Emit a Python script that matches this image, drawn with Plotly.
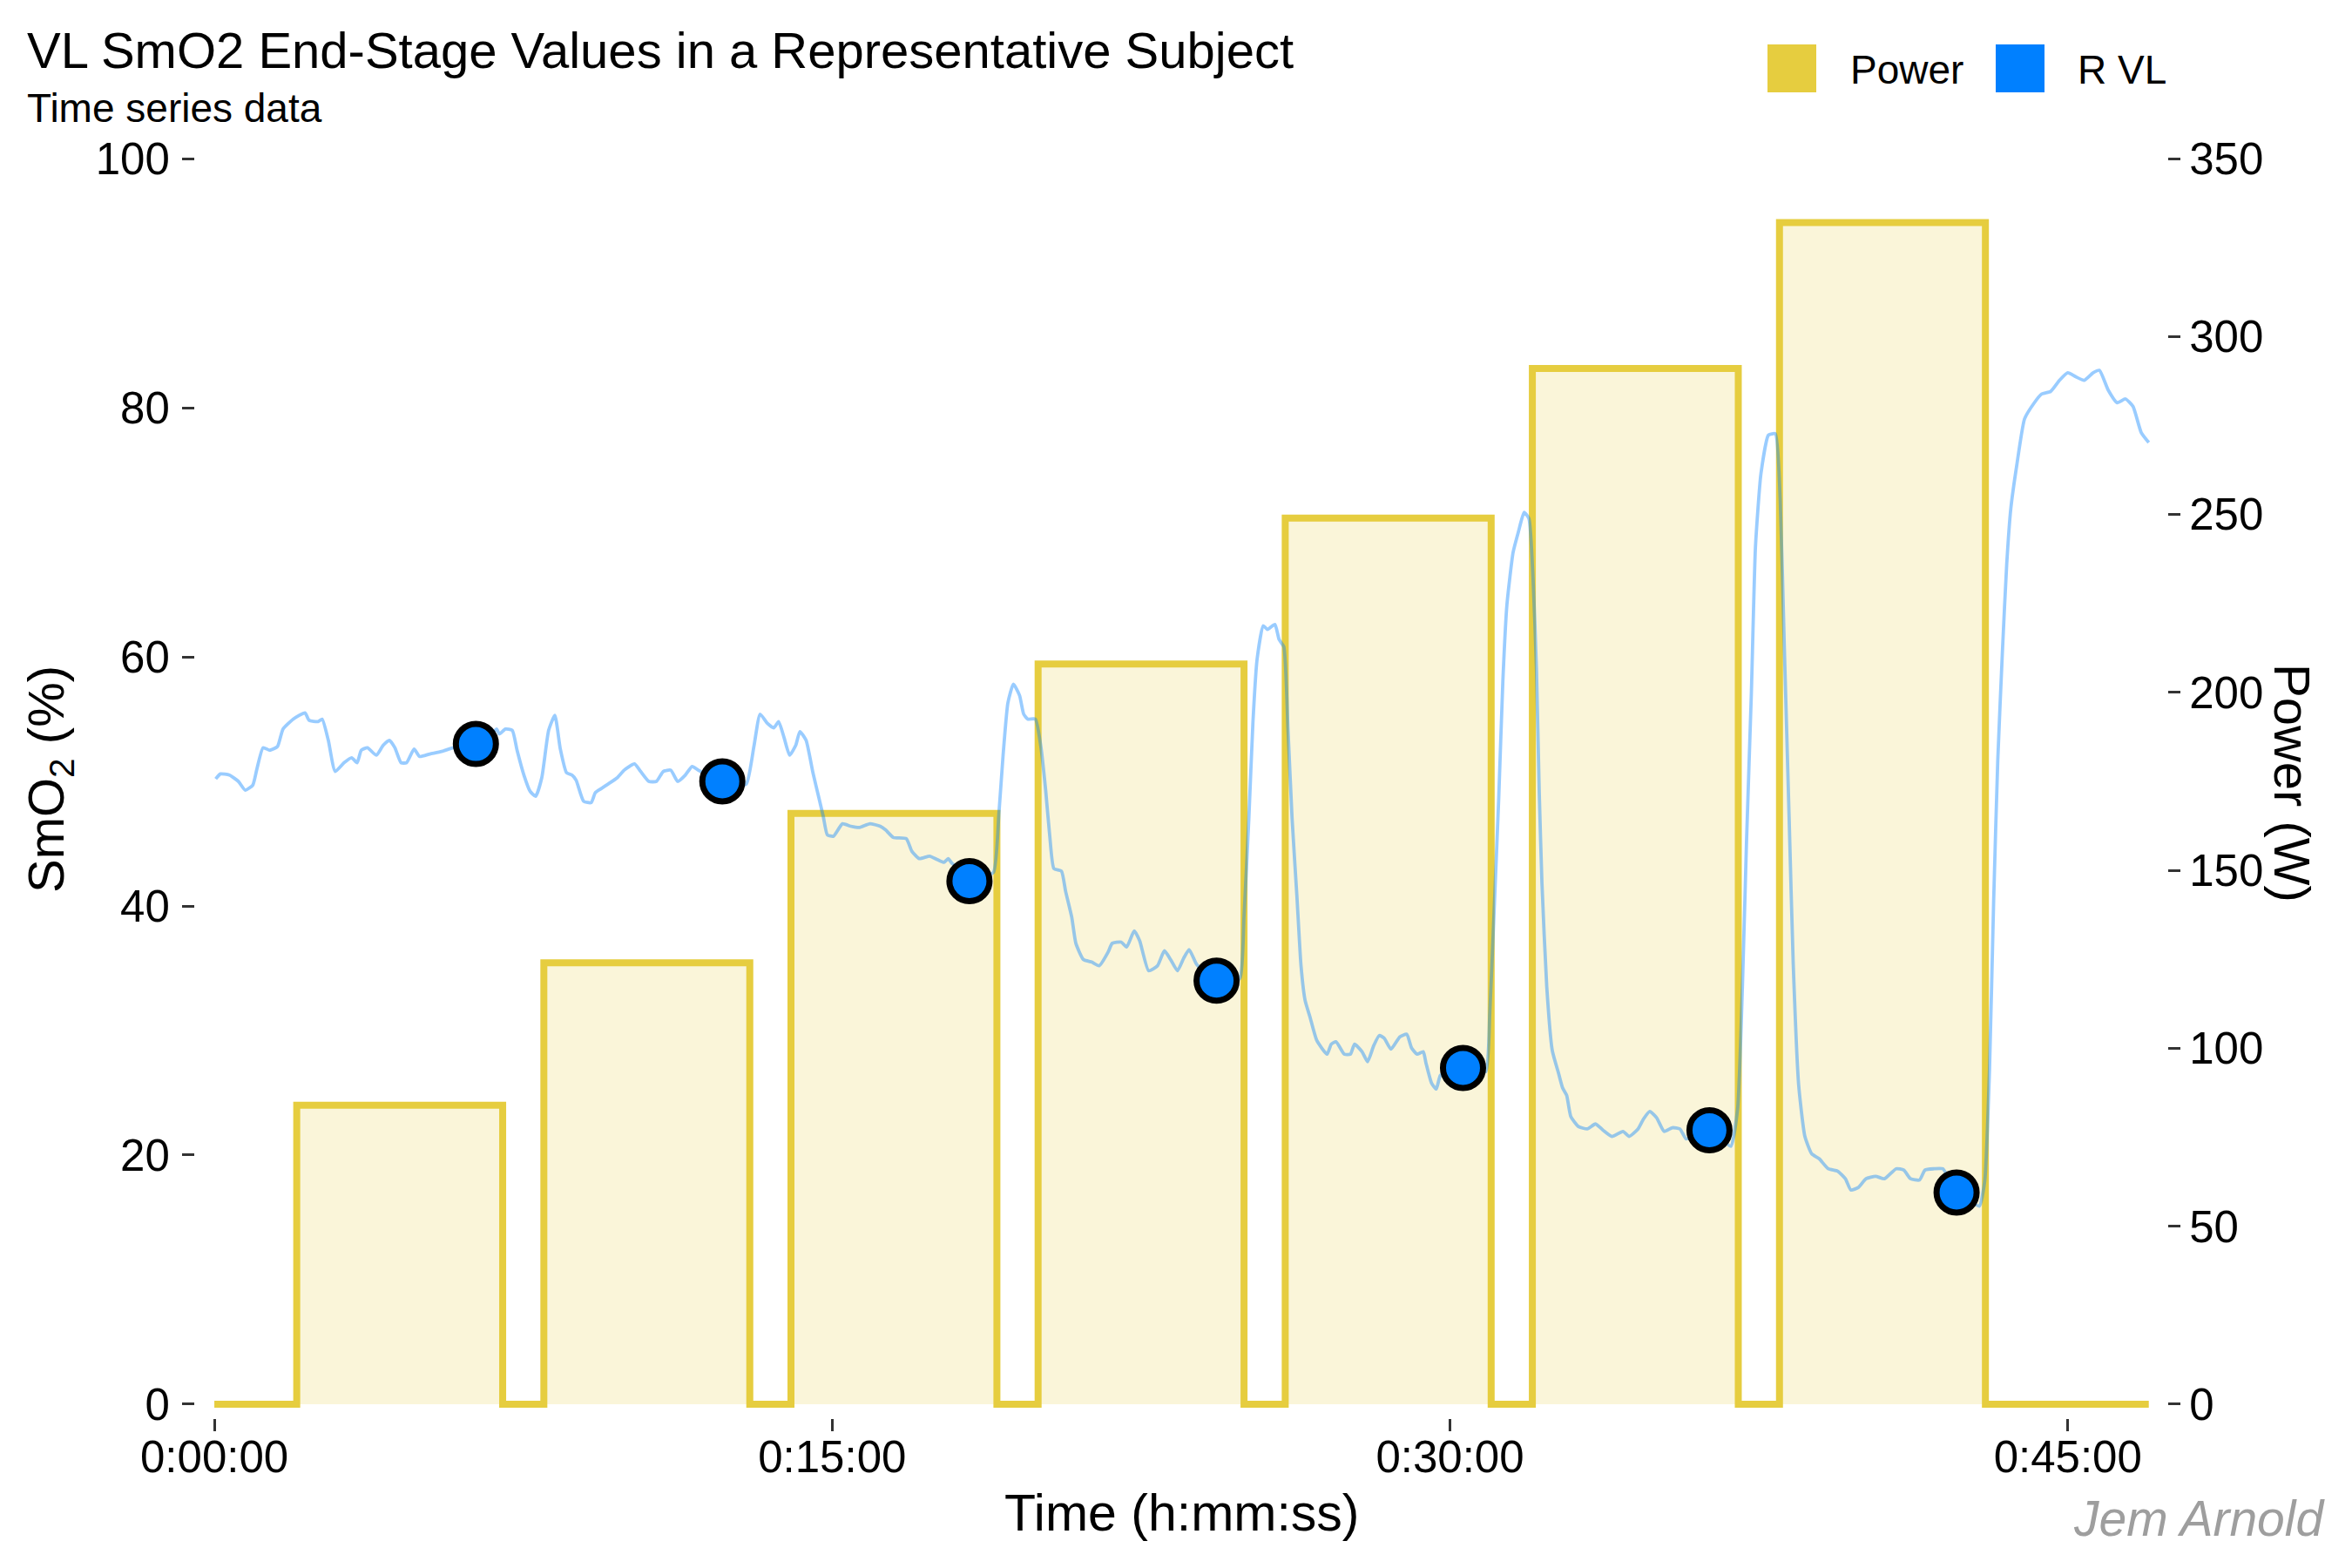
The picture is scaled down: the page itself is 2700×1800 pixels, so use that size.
import plotly.graph_objects as go

# ---------------- data ----------------
time_s = [2, 9, 22, 35, 45, 56, 62, 71, 81, 92, 100, 115, 132, 138, 151, 157, 166, 176, 189, 200,
          208, 214, 223, 236, 246, 255, 263, 272, 280, 291, 299, 314, 331, 348, 365, 381, 398, 411, 415, 424,
          434, 441, 451, 460, 468, 477, 487, 496, 504, 513, 521, 527, 538, 549, 555, 563, 574, 587, 597, 612,
          621, 633, 644, 654, 665, 675, 686, 696, 705, 722, 740, 758, 775, 786, 795, 805, 815, 822, 830, 838,
          847, 853, 862, 872, 881, 887, 893, 902, 915, 927, 940, 955, 970, 978, 989, 1008, 1016, 1027, 1042, 1054,
          1063, 1069, 1075, 1088, 1100, 1118, 1135, 1143, 1149, 1156, 1164, 1173, 1179, 1185, 1196, 1204, 1211, 1217, 1223, 1234,
          1240, 1249, 1255, 1266, 1278, 1289, 1302, 1308, 1321, 1329, 1340, 1348, 1361, 1374, 1384, 1393, 1403, 1412, 1420, 1431,
          1445, 1460, 1478, 1494, 1500, 1507, 1513, 1519, 1528, 1534, 1545, 1551, 1558, 1564, 1570, 1577, 1583, 1589, 1596, 1606,
          1621, 1627, 1634, 1646, 1655, 1661, 1672, 1680, 1689, 1697, 1704, 1714, 1727, 1737, 1744, 1752, 1761, 1765, 1773, 1780,
          1786, 1800, 1819, 1836, 1852, 1858, 1864, 1871, 1877, 1883, 1892, 1900, 1908, 1915, 1921, 1926, 1930, 1934, 1941, 1949,
          1958, 1964, 1970, 1976, 1987, 2000, 2012, 2023, 2036, 2052, 2061, 2074, 2082, 2091, 2101, 2112, 2124, 2135, 2144, 2160,
          2178, 2194, 2209, 2219, 2226, 2232, 2239, 2245, 2253, 2264, 2274, 2281, 2287, 2294, 2300, 2308, 2317, 2327, 2338, 2351,
          2365, 2376, 2384, 2395, 2406, 2420, 2433, 2450, 2461, 2471, 2484, 2492, 2505, 2518, 2538, 2555, 2571, 2579, 2586, 2592,
          2598, 2605, 2611, 2617, 2626, 2637, 2650, 2662, 2675, 2688, 2700, 2711, 2724, 2737, 2746, 2759, 2772, 2784, 2795, 2807,
          2818]
smo2_rvl = [50.2, 50.6, 50.5, 50.0, 49.3, 49.7, 51.0, 52.7, 52.5, 52.8, 54.2, 55.0, 55.5, 54.9, 54.8, 55.0, 53.3, 50.8, 51.5, 51.9,
            51.5, 52.5, 52.7, 52.1, 52.9, 53.3, 52.7, 51.5, 51.5, 52.6, 52.0, 52.2, 52.4, 52.7, 52.8, 53.0, 53.4, 54.2, 53.8, 54.2,
            54.1, 52.5, 50.5, 49.2, 48.8, 50.3, 54.1, 55.3, 52.6, 50.7, 50.5, 50.1, 48.4, 48.3, 49.1, 49.4, 49.8, 50.3, 50.9, 51.4,
            50.8, 50.0, 50.0, 50.8, 50.9, 50.0, 50.5, 51.2, 50.9, 50.4, 50.0, 49.6, 49.8, 52.8, 55.4, 54.7, 54.3, 54.8, 53.5, 52.1,
            52.9, 54.0, 53.3, 50.7, 48.6, 47.2, 45.7, 45.6, 46.6, 46.4, 46.3, 46.6, 46.4, 46.1, 45.5, 45.4, 44.4, 43.8, 44.0, 43.7,
            43.5, 43.8, 43.4, 43.0, 42.0, 42.3, 42.7, 47.5, 52.1, 56.3, 57.8, 56.9, 55.4, 55.0, 55.0, 52.8, 49.3, 45.6, 43.0, 42.8,
            41.2, 39.1, 37.0, 35.7, 35.5, 35.2, 36.3, 37.0, 37.1, 36.7, 38.0, 37.2, 34.8, 35.2, 36.4, 35.7, 34.8, 35.8, 36.5, 35.3,
            34.6, 34.0, 33.8, 34.2, 39.2, 47.0, 54.8, 59.8, 62.5, 62.2, 62.6, 61.4, 60.8, 54.2, 47.0, 40.8, 35.2, 32.4, 31.1, 29.2,
            28.1, 28.9, 29.1, 28.1, 28.1, 28.9, 28.3, 27.5, 28.8, 29.6, 29.4, 28.5, 29.5, 29.7, 28.6, 28.1, 28.3, 27.4, 25.8, 25.3,
            26.4, 26.9, 27.0, 26.8, 26.7, 31.4, 39.2, 48.6, 58.0, 64.2, 68.4, 70.1, 71.6, 71.1, 66.3, 59.0, 49.2, 41.8, 33.5, 28.4,
            26.6, 25.4, 24.8, 23.1, 22.3, 22.1, 22.5, 22.0, 21.5, 21.9, 21.5, 22.1, 22.9, 23.5, 23.0, 21.9, 22.2, 22.1, 21.3, 21.6,
            22.0, 21.4, 20.7, 23.7, 33.5, 45.2, 57.0, 68.8, 74.7, 77.8, 77.9, 72.7, 60.9, 47.2, 35.4, 25.6, 21.5, 20.1, 19.7, 18.9,
            18.7, 18.1, 17.2, 17.4, 18.1, 18.3, 18.1, 18.9, 18.8, 18.1, 18.0, 18.8, 18.9, 18.9, 17.0, 16.5, 15.9, 17.9, 26.9, 40.4,
            51.7, 60.7, 67.4, 71.9, 75.5, 79.1, 80.3, 81.1, 81.3, 82.2, 82.8, 82.5, 82.2, 82.8, 83.0, 81.4, 80.4, 80.7, 80.1, 78.0,
            77.2]

power_time = [0, 120, 420, 480, 780, 840, 1140, 1200, 1500, 1560, 1860, 1920, 2220, 2280, 2580, 2818]
power_w = [0, 84, 0, 124, 0, 166, 0, 208, 0, 249, 0, 291, 0, 332, 0, 0]

end_stage_time = [381, 740, 1100, 1460, 1819, 2178, 2538]
end_stage_smo2 = [53, 50, 42, 34, 27, 22, 17]

x_tickvals = [0, 900, 1800, 2700]
x_ticktext = ["0:00:00", "0:15:00", "0:30:00", "0:45:00"]
smo2_tickvals = [0, 20, 40, 60, 80, 100]
power_tickvals = [0, 50, 100, 150, 200, 250, 300, 350]

# ---------------- layout geometry ----------------
OFF = 8                      # page body margin
W, H = 2700 - OFF, 1800 - OFF
# plot area in page pixels
PL, PR, PT, PB = 224, 2488, 166, 1628
SMO2_RANGE = [-1.12, 101.12]
POWER_RANGE = [v * 3.5 for v in SMO2_RANGE]
FONT = "Liberation Sans, Arial, Helvetica, sans-serif"
YELLOW = "#E6CD3F"
BLUE = "#0080FF"
TICK = 51


def px(xp):
    return (xp - PL) / (PR - PL)


def py(yp):
    return (PB - yp) / (PB - PT)


fig = go.Figure()

fig.add_trace(go.Scatter(
    x=power_time, y=power_w, yaxis="y", mode="lines", line_shape="hv",
    line=dict(color=YELLOW, width=8), fill="tozeroy",
    fillcolor="rgba(230,205,63,0.2)", name="Power", showlegend=False,
    hoverinfo="skip"))

fig.add_trace(go.Scatter(
    x=time_s, y=smo2_rvl, yaxis="y2", mode="lines",
    line=dict(color="rgba(0,128,255,0.4)", width=3.8, shape="spline", smoothing=0.5),
    name="R VL", showlegend=False))

fig.add_trace(go.Scatter(
    x=end_stage_time, y=end_stage_smo2, yaxis="y2", mode="markers",
    marker=dict(color=BLUE, size=46, line=dict(color="black", width=7)),
    name="R VL end-stage", showlegend=False))

annotations = [
    dict(text="VL SmO2 End-Stage Values in a Representative Subject", x=px(29), y=py(58),
         xanchor="left", yanchor="middle", font=dict(size=58, color="black")),
    dict(text="Time series data", x=px(29), y=py(124), xanchor="left", yanchor="middle",
         font=dict(size=46, color="black")),
    dict(text="Time (h:mm:ss)", x=px(1357), y=py(1737), xanchor="center", yanchor="middle",
         font=dict(size=59, color="black")),
    dict(text="SmO<sub>2</sub> (%)", x=px(57), y=py(895), xanchor="center", yanchor="middle",
         textangle=-90, font=dict(size=58, color="black")),
    dict(text="Power (W)", x=px(2632), y=py(899), xanchor="center", yanchor="middle",
         textangle=90, font=dict(size=58, color="black")),
    dict(text="<i>Jem Arnold</i>", x=px(2671), y=py(1743), xanchor="right", yanchor="middle",
         font=dict(size=57, color="#9E9E9E")),
    dict(text="Power", x=px(2122), y=py(80), xanchor="left", yanchor="middle",
         font=dict(size=46, color="black")),
    dict(text="R VL", x=px(2383), y=py(80), xanchor="left", yanchor="middle",
         font=dict(size=46, color="black")),
]
for a in annotations:
    a.update(xref="paper", yref="paper", showarrow=False)

shapes = [
    dict(type="rect", xref="paper", yref="paper", x0=px(2029), x1=px(2085), y0=py(106), y1=py(51),
         fillcolor=YELLOW, line=dict(width=0)),
    dict(type="rect", xref="paper", yref="paper", x0=px(2291), x1=px(2347), y0=py(106), y1=py(51),
         fillcolor=BLUE, line=dict(width=0)),
]

axis_common = dict(ticks="outside", ticklen=14, tickwidth=3, tickcolor="#333333",
                   tickfont=dict(size=TICK, color="black"), showgrid=False,
                   zeroline=False, showline=False)

fig.update_layout(
    width=W, height=H,
    margin=dict(l=PL - OFF, r=W - (PR - OFF), t=PT - OFF, b=H - (PB - OFF), pad=0),
    paper_bgcolor="white", plot_bgcolor="white",
    font=dict(family=FONT, color="black"),
    showlegend=False,
    annotations=annotations, shapes=shapes,
    xaxis=dict(range=[-28, 2845], tickvals=x_tickvals, ticktext=x_ticktext,
               ticklabelstandoff=-14, **axis_common),
    yaxis=dict(range=POWER_RANGE, tickvals=power_tickvals, side="right", **axis_common),
    yaxis2=dict(range=SMO2_RANGE, tickvals=smo2_tickvals, overlaying="y", side="left",
                ticklabelstandoff=4, **axis_common),
)

fig.write_html("out.html")
